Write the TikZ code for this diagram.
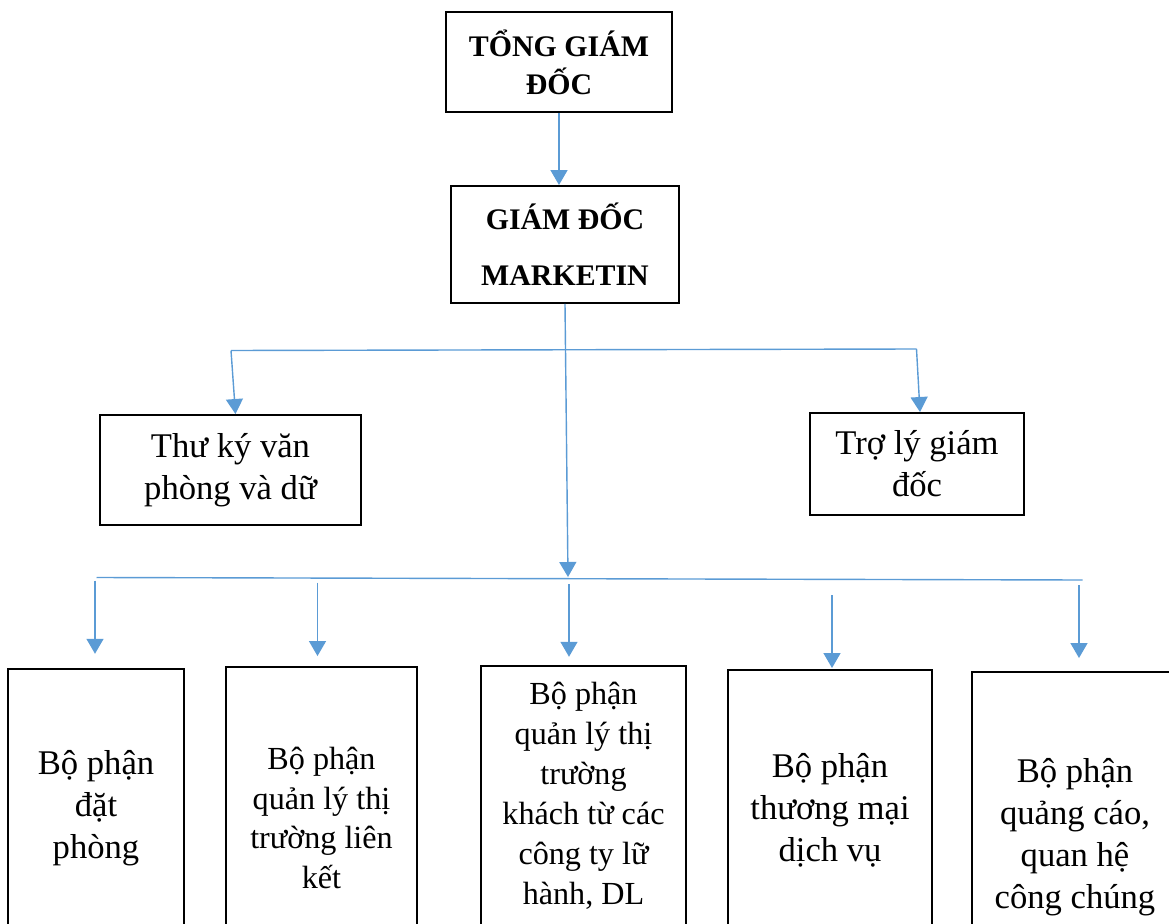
\documentclass[tikz,border=0pt]{standalone}
\usepackage{fontspec}
\setmainfont{Liberation Serif}
\usetikzlibrary{arrows.meta}
\definecolor{lineblue}{HTML}{5B9BD5}

\begin{document}
\begin{tikzpicture}[
boxnode/.style={draw=black, line width=1.1pt, align=center, inner sep=2pt},
headnode/.style={boxnode, font=\bfseries\fontsize{17}{21.5}\selectfont},
bignode/.style={boxnode, font=\fontsize{19.7}{23.8}\selectfont},
smallnode/.style={boxnode, font=\fontsize{18.3}{22.7}\selectfont},
busline/.style={draw=lineblue, line width=0.8pt},
arrowline/.style={busline, -{Triangle[width=3.4mm,length=3mm]}}
]
\useasboundingbox (0,0) rectangle (23.38,-18.48);
\clip (0,0) rectangle (23.38,-18.48);

\node [headnode, minimum width=4.52cm, minimum height=2cm] (a1) at (11.18,-1.24) {TỔNG GIÁM\\ĐỐC};
    \node [headnode, font=\bfseries\fontsize{17}{32}\selectfont, minimum width=4.56cm, minimum height=2.34cm] (b1) at (11.3,-4.89) {GIÁM ĐỐC\\MARKETIN};
    
    \node [bignode, minimum width=5.22cm, minimum height=2.2cm] (c1) at (4.61,-9.4) {Thư ký văn\\phòng và dữ};
    \node [bignode, minimum width=4.28cm, minimum height=2.04cm] (c2) at (18.34,-9.28) {Trợ lý giám\\đốc};
    
    \node [bignode, minimum width=3.52cm, minimum height=5.57cm] (d1) at (1.92,-16.16) {Bộ phận\\đặt\\phòng};
    \node [smallnode, minimum width=3.82cm, minimum height=6.04cm] (d2) at (6.43,-16.36) {Bộ phận\\quản lý thị\\trường liên\\kết};
    \node [smallnode, minimum width=4.1cm, minimum height=5.21cm] (d3) at (11.67,-15.92) {Bộ phận\\quản lý thị\\trường\\khách từ các\\công ty lữ\\hành, DL};
    \node [bignode, minimum width=4.09cm, minimum height=5.6cm] (d4) at (16.6,-16.2) {Bộ phận\\thương mại\\dịch vụ};
    \node [bignode, minimum width=4.12cm, minimum height=6.6cm] (d5) at (21.5,-16.74) {Bộ phận\\quảng cáo,\\quan hệ\\công chúng};
    
    \coordinate (h1) at (4.62,-7.01);
    \coordinate (h2) at (18.33,-6.98);
    \coordinate (hub) at (11.36,-11.54);
    \coordinate (g1) at (1.93,-11.55);
    \coordinate (g2) at (21.65,-11.6);
    \coordinate (s1) at (1.9,-11.61);
    \coordinate (s2) at (6.35,-11.65);
    \coordinate (s3) at (11.38,-11.68);
    \coordinate (s4) at (16.64,-11.9);
    \coordinate (s5) at (21.58,-11.7);
    
    \draw [arrowline] (a1.south) -- (a1.south |- b1.north);
    \draw [busline] (h1) -- (h2);
    \draw [arrowline] (h1) -- ([xshift=0.1cm]c1.north);
    \draw [arrowline] (h2) -- ([xshift=0.06cm]c2.north);
    \draw [arrowline] (b1.south) -- (hub);
    \draw [busline] (g1) -- (g2);
    \draw [arrowline, shorten >=0.28cm] (s1) -- (s1 |- d1.north);
    \draw [arrowline, shorten >=0.2cm] (s2) -- (s2 |- d2.north);
    \draw [arrowline, shorten >=0.16cm] (s3) -- (s3 |- d3.north);
    \draw [arrowline, shorten >=0.02cm] (s4) -- (s4 |- d4.north);
    \draw [arrowline, shorten >=0.26cm] (s5) -- (s5 |- d5.north);
    \end{tikzpicture}
\end{document}
